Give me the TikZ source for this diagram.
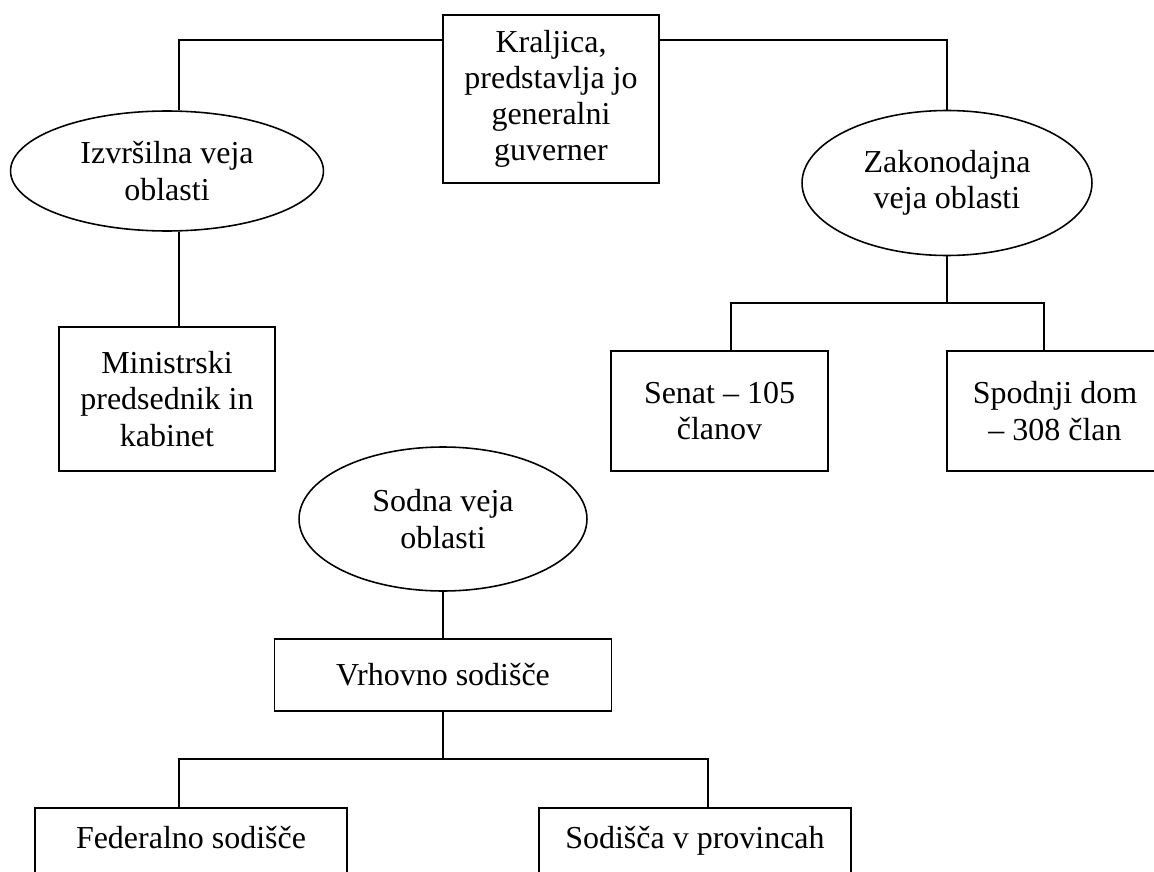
\documentclass[tikz,border=0pt]{standalone}
\usepackage{fontspec}
\setmainfont{Liberation Serif}
\usetikzlibrary{shapes.geometric}

\newcommand{\chartfont}{\fontsize{18.2}{20.6}\selectfont}

\begin{document}
\begin{tikzpicture}[x=0.02cm, y=-0.02cm,
    box/.style={draw, rectangle, line width=0.9pt, inner sep=0pt,
        align=center, font=\chartfont},
    oval/.style={draw, ellipse, line width=0.9pt, inner sep=0pt,
        align=center, font=\chartfont},
    cutbox/.style={box, anchor=north, minimum width=6.24cm,
        inner ysep=0.3cm, text height=0.52cm, text depth=0.8cm},
    link/.style={line width=0.9pt}]

    \path[use as bounding box] (0,0) rectangle (1154,872);
    \clip (0,0) rectangle (1154,872);

    % top
    \node[box, minimum width=4.32cm, minimum height=3.36cm] (kraljica) at (551,99)
        {Kraljica,\\predstavlja jo\\generalni\\guverner};

    % executive
    \node[oval, minimum width=6.26cm, minimum height=2.4cm] (izvrsilna) at (167,171)
        {Izvršilna veja\\oblasti};
    \node[box, minimum width=4.32cm, minimum height=2.88cm] (ministrski) at (167,399)
        {Ministrski\\predsednik in\\kabinet};

    % legislative
    \node[oval, minimum width=5.8cm, minimum height=2.9cm] (zakonodajna) at (947,183)
        {Zakonodajna\\veja oblasti};
    \node[box, minimum width=4.34cm, minimum height=2.4cm] (senat) at (719.5,411)
        {Senat -- 105\\članov};
    \node[box, minimum width=4.32cm, minimum height=2.4cm] (dom) at (1055,411)
        {Spodnji dom\\-- 308 član};

    % judicial
    \node[oval, minimum width=5.76cm, minimum height=2.88cm] (sodna) at (443,519)
        {Sodna veja\\oblasti};
    \node[box, minimum width=6.74cm, minimum height=1.44cm] (vrhovno) at (443,675)
        {Vrhovno sodišče};
    \node[cutbox] (federalno) at (191,807) {Federalno sodišče};
    \node[cutbox] (provincah) at (695,807) {Sodišča v provincah};

    % connectors
    \coordinate (topleft) at (179,40);
    \coordinate (topright) at (947,40);
    \coordinate (senatjoin) at (731,303);
    \coordinate (domjoin) at (1044,303);
    \coordinate (fedjoin) at (179,759);
    \coordinate (provjoin) at (708,759);

    \draw[link] (kraljica.west |- topleft) -- (topleft) -- (topleft |- izvrsilna.north);
    \draw[link] (topleft |- izvrsilna.south) -- (topleft |- ministrski.north);
    \draw[link] (kraljica.east |- topright) -- (topright) -- (zakonodajna.north);

    \draw[link] (zakonodajna.south) -- (zakonodajna.south |- domjoin);
    \draw[link] (senatjoin |- senat.north) -- (senatjoin) -- (domjoin) -- (domjoin |- dom.north);

    \draw[link] (sodna.south) -- (vrhovno.north);
    \draw[link] (vrhovno.south) -- (vrhovno.south |- fedjoin);
    \draw[link] (fedjoin |- federalno.north) -- (fedjoin) -- (provjoin) -- (provjoin |- provincah.north);

\end{tikzpicture}
\end{document}
